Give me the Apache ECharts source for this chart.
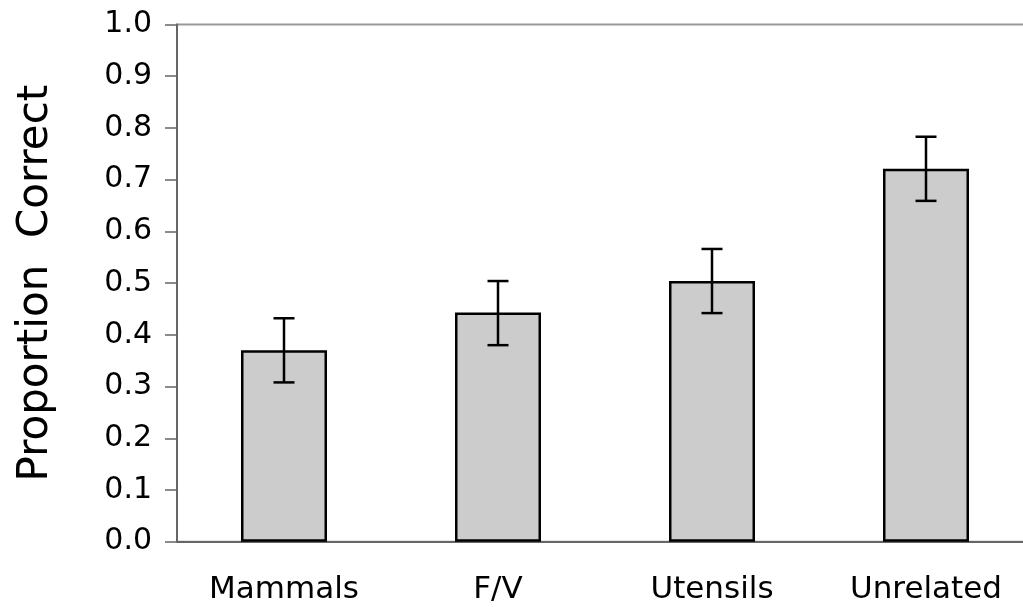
<!DOCTYPE html>
<html>
<head>
<meta charset="utf-8">
<script src="https://cdn.jsdelivr.net/npm/echarts@6/dist/echarts.min.js"></script>
<style>
html,body{margin:0;padding:0;background:#fff;}
#chart{width:1023px;height:607px;}
</style>
</head>
<body>
<div id="chart"></div>
<script>
var categories = ['Mammals', 'F/V', 'Utensils', 'Unrelated'];
var means = [0.37, 0.443, 0.504, 0.721];
var errLow = [0.308, 0.380, 0.442, 0.659];
var errHigh = [0.432, 0.504, 0.566, 0.783];
var yTicks = [0, 0.1, 0.2, 0.3, 0.4, 0.5, 0.6, 0.7, 0.8, 0.9, 1.0];

var FONT = "'DejaVu Sans', 'Liberation Sans', Arial, sans-serif";
var errData = categories.map(function (c, i) { return [i, errLow[i], errHigh[i]]; });

var chart = echarts.init(document.getElementById('chart'), null, {renderer: 'canvas'});
chart.setOption({
  animation: false,
  backgroundColor: '#fff',
  grid: {
    left: 177, width: 856, top: 24.5, height: 517.2,
    outerBoundsMode: 'none',
    containLabel: false,
    show: true, borderColor: '#999', borderWidth: 2, backgroundColor: 'transparent'
  },
  xAxis: {
    type: 'category',
    data: categories,
    axisLine: {show: true, lineStyle: {color: '#666', width: 2}},
    axisTick: {show: false},
    axisLabel: {color: '#000', fontSize: 31, fontFamily: FONT, margin: 33}
  },
  yAxis: {
    type: 'value',
    min: yTicks[0], max: yTicks[yTicks.length - 1], interval: 0.1,
    name: 'Proportion  Correct',
    nameLocation: 'middle',
    nameGap: 120,
    nameTextStyle: {color: '#000', fontSize: 42, fontFamily: FONT},
    axisLine: {show: true, lineStyle: {color: '#666', width: 2}},
    axisTick: {show: true, inside: false, length: 12, lineStyle: {color: '#666', width: 1.5}},
    axisLabel: {color: '#000', fontSize: 30, fontFamily: FONT, margin: 25,
      formatter: function (v) { return v.toFixed(1); }},
    splitLine: {show: false}
  },
  series: [
    {
      type: 'bar',
      data: means,
      barWidth: 86,
      itemStyle: {color: '#cccccc', borderColor: '#000', borderWidth: 2.5}
    },
    {
      type: 'custom',
      data: errData,
      z: 10,
      renderItem: function (params, api) {
        var x = api.value(0);
        var lo = api.coord([x, api.value(1)]);
        var hi = api.coord([x, api.value(2)]);
        var hw = 10.5;
        var st = {stroke: '#000', lineWidth: 2.5};
        return {
          type: 'group',
          children: [
            {type: 'line', shape: {x1: hi[0], y1: hi[1], x2: lo[0], y2: lo[1]}, style: st},
            {type: 'line', shape: {x1: hi[0] - hw, y1: hi[1], x2: hi[0] + hw, y2: hi[1]}, style: st},
            {type: 'line', shape: {x1: lo[0] - hw, y1: lo[1], x2: lo[0] + hw, y2: lo[1]}, style: st}
          ]
        };
      }
    }
  ]
});
</script>
</body>
</html>
